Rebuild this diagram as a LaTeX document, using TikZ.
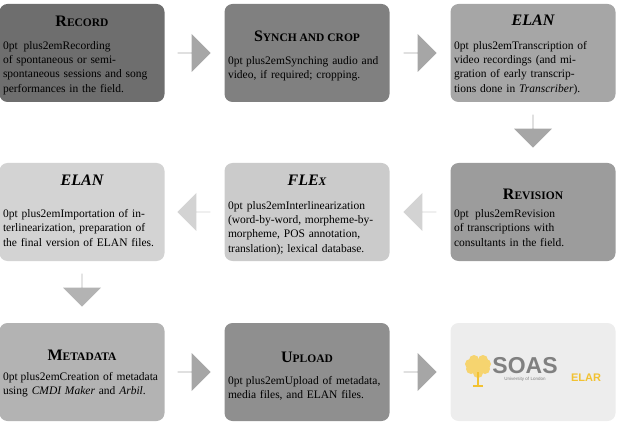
\documentclass[tikz,border=0pt]{standalone}
\usepackage{fontspec}
\setmainfont{Liberation Serif}
\newfontfamily\logofont{Liberation Sans}
\usetikzlibrary{positioning, shapes.arrows}

\definecolor{boxA}{HTML}{6E6E6E}
\definecolor{boxB}{HTML}{808080}
\definecolor{boxC}{HTML}{A6A6A6}
\definecolor{boxD}{HTML}{9C9C9C}
\definecolor{boxE}{HTML}{CBCBCB}
\definecolor{boxF}{HTML}{D3D3D3}
\definecolor{boxG}{HTML}{B3B3B3}
\definecolor{boxH}{HTML}{8F8F8F}
\definecolor{boxI}{HTML}{EDEDED}
\definecolor{soasyellow}{HTML}{F2C232}

% fake small caps
\newcommand{\fsc}[2]{#1{\fontsize{11.5}{13}\selectfont #2}}

\begin{document}
\begin{tikzpicture}[x=1pt, y=-1pt,
    every step/.style={rectangle, rounded corners=8pt, minimum width=165pt, minimum height=98pt, inner sep=0pt},
    steptitle/.style={font=\fontsize{16}{17}\selectfont\bfseries},
    steptext/.style={text width=158pt, align=center, font=\fontsize{11.5}{14.3}\selectfont\hyphenpenalty=10000\exhyphenpenalty=0},
    blockarrow/.style={single arrow, minimum height=33pt, minimum width=38pt, single arrow head extend=8pt, inner sep=0pt, draw=none}]

    \useasboundingbox (0,0) rectangle (617,427);

    % Boxes
    \node[every step, fill=boxA] (rec) at (82,53) {};
    \node[every step, fill=boxB] (syn) at (307,53) {};
    \node[every step, fill=boxC] (el1) at (533,53) {};
    \node[every step, fill=boxD] (rev) at (533,212) {};
    \node[every step, fill=boxE] (flx) at (307,212) {};
    \node[every step, fill=boxF] (el2) at (82,212) {};
    \node[every step, fill=boxG] (met) at (82,372) {};
    \node[every step, fill=boxH] (upl) at (307,372) {};
    \node[every step, fill=boxI] (soas) at (533,372) {};

    % Texts
    \node[steptitle] at (82,21) {\fsc{R}{ECORD}};
    \node[steptext] at (82,68) {Recording of spontaneous or semi-spontaneous sessions and song performances in the field.};
    \node[steptitle] at (307,36) {\fsc{S}{YNCH AND CROP}};
    \node[steptext] at (307,69) {Synching audio and video, if required; cropping.};
    \node[steptitle] at (533,20) {\itshape ELAN};
    \node[steptext] at (533,68) {Transcription of video recordings (and migration of early transcriptions done in \textit{Transcriber}).};
    \node[steptitle] at (533,194) {\fsc{R}{EVISION}};
    \node[steptext] at (533,228) {Revision of transcriptions with consultants in the field.};
    \node[steptitle] at (307,180) {\itshape FLE{\fontsize{11.5}{13}\selectfont X}};
    \node[steptext] at (307,228) {Interlinearization (word-by-word, morpheme-by-morpheme, POS annotation, translation); lexical database.};
    \node[steptitle] at (82,180) {\itshape ELAN};
    \node[steptext] at (82,228) {Importation of interlinearization, preparation of the final version of ELAN files.};
    \node[steptitle] at (82,355) {\fsc{M}{ETADATA}};
    \node[steptext] at (82,385) {Creation of metadata using \textit{CMDI Maker} and \textit{Arbil}.};
    \node[steptitle] at (307,357) {\fsc{U}{PLOAD}};
    \node[steptext] at (307,388) {Upload of metadata, media files, and ELAN files.};

    % Logo
    \foreach \dx/\dy in {0/0, -7/4, 7/4, -4/-5, 5/-5, 0/8, -8/-1, 8/-1}
        \fill[soasyellow!70] (478+\dx,365+\dy) circle (5pt);
    \fill[soasyellow] (477,372) rectangle (479,386);
    \fill[soasyellow] (473,385) rectangle (483,387);
    \node[font=\logofont\bfseries\fontsize{23}{23}\selectfont, text=gray, inner sep=0pt] (soasname) at (525,366) {SOAS};
    \node[font=\logofont\fontsize{4.5}{5}\selectfont, text=gray, below=3pt of soasname, inner sep=0pt] {University of London};
    \node[font=\logofont\bfseries\fontsize{11}{11}\selectfont, text=soasyellow, inner sep=0pt] at (586,378) {ELAR};

    % Arrows
    \node[blockarrow, fill=boxC] at (194,53) {};
    \node[blockarrow, fill=boxC] at (420,53) {};
    \node[blockarrow, fill=boxC, shape border rotate=270] at (533,131) {};
    \node[blockarrow, fill=boxF, shape border rotate=180] at (420,212) {};
    \node[blockarrow, fill=boxF, shape border rotate=180] at (194,212) {};
    \node[blockarrow, fill=boxG, shape border rotate=270] at (82,290) {};
    \node[blockarrow, fill=boxC] at (194,372) {};
    \node[blockarrow, fill=boxC] at (420,372) {};

\end{tikzpicture}
\end{document}
